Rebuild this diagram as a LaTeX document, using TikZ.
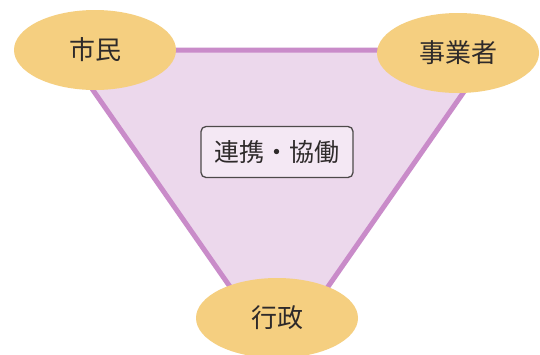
\documentclass[tikz,border=0pt]{standalone}
\usepackage{fontspec}
\setmainfont{Noto Sans CJK JP}
\usetikzlibrary{shapes.geometric}
\definecolor{ellfill}{HTML}{F5CF80}
\definecolor{triedge}{HTML}{C98BC9}
\definecolor{trifill}{HTML}{ECD8EC}
\definecolor{txt}{HTML}{2E2A2A}
\tikzset{
  party/.style={ellipse, fill=ellfill, minimum width=162pt, minimum height=80pt, inner sep=0pt,
    font=\fontsize{26}{30}\selectfont, text=txt},
  centerbox/.style={draw=txt!85, line width=1.3pt, rounded corners=5pt, fill=trifill!60,
    minimum width=152pt, minimum height=51pt, inner sep=0pt, font=\fontsize{25}{30}\selectfont, text=txt},
  triline/.style={draw=triedge, fill=trifill, line width=5pt, line join=miter}
}
\begin{document}
\begin{tikzpicture}[x=1pt,y=-1pt]
\useasboundingbox (0,0) rectangle (540,354);
\fill[white] (0,0) rectangle (540,354);
\coordinate (tl) at (65,50);
\coordinate (tr) at (493,50);
\coordinate (bt) at (279,357);
\begin{scope}
\clip (0,0) rectangle (540,354);
\path[triline] (tl) -- (tr) -- (bt) -- cycle;
\end{scope}
\node[party] (shimin) at (95,50) {市民};
\node[party] (jigyo) at (458,53) {事業者};
\node[party] (gyosei) at (277,318) {行政};
\node[centerbox] (renkei) at (277,152) {連携・協働};
\end{tikzpicture}
\end{document}
